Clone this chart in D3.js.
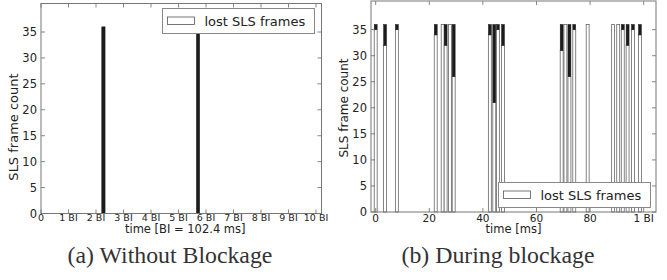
<!DOCTYPE html>
<html>
<head>
<meta charset="utf-8">
<script src="https://cdn.jsdelivr.net/npm/d3@7"></script>
<style>
  body { margin: 0; background: #fff; }
  svg { display: block; }
  text { font-family: "DejaVu Sans", sans-serif; fill: #222; }
</style>
</head>
<body>
<script>
// ---- data ----
// (a) without blockage: time in BI, counts per bar
var timeA  = [2.27, 5.71];
var lostA  = [0, 0];
var totalA = [36, 36];

// (b) during blockage: time in ms
var timeB  = [0, 3.5, 7.9, 22.4, 25, 26.1, 27.7, 29.1, 42.6, 44.25, 45.6, 47.5,
              69.4, 70.8, 72.3, 74.1, 79.1, 88.6, 90.5, 92.2, 94.0, 96.0, 98.6];
var lostB  = [35, 32, 35, 34, 36, 32, 36, 26, 34, 21, 35, 32,
              31, 36, 26, 35, 36, 36, 36, 35, 32, 35, 34];
var totalB = timeB.map(function () { return 36; });

var yTicks = [0, 5, 10, 15, 20, 25, 30, 35];
var xTicksA = [0, 1, 2, 3, 4, 5, 6, 7, 8, 9, 10];
var xTickLabelsA = ["0", "1 BI", "2 BI", "3 BI", "4 BI", "5 BI", "6 BI", "7 BI", "8 BI", "9 BI", "10 BI"];
var xTicksB = [0, 20, 40, 60, 80, 100];
var xTickLabelsB = ["0", "20", "40", "60", "80", "1 BI"];

var W = 667, H = 280;
var svg = d3.select("body").append("svg")
    .attr("width", W)
    .attr("height", H);

function panel(o) {
    var x = d3.scaleLinear().domain(o.xdom).range([o.left, o.right]);
    var y = d3.scaleLinear().domain([0, 40.5]).range([o.bottom, o.top]);
    var g = svg.append("g");

    // bars: white = lost, dark = rest up to total
    var bw = o.barWidth;
    var bars = g.append("g");
    o.t.forEach(function (t, i) {
        var xl = x(t - bw / 2), xr = x(t + bw / 2);
        if (o.lost[i] > 0) {
            bars.append("rect")
                .attr("x", xl).attr("width", xr - xl)
                .attr("y", y(o.lost[i])).attr("height", y(0) - y(o.lost[i]))
                .style("fill", "#fff").style("stroke", "#666").style("stroke-width", 0.8);
        }
        if (o.total[i] > o.lost[i]) {
            bars.append("rect")
                .attr("x", xl).attr("width", xr - xl)
                .attr("y", y(o.total[i])).attr("height", y(o.lost[i]) - y(o.total[i]))
                .style("fill", "#1c1c1c").style("stroke", "#1c1c1c").style("stroke-width", 0.5);
        }
    });

    // ticks inside, mirrored on all sides (classic matplotlib look)
    var tk = g.append("g").style("stroke", "#666").style("stroke-width", 0.8);
    o.xt.forEach(function (v) {
        tk.append("line").attr("x1", x(v)).attr("x2", x(v)).attr("y1", o.bottom).attr("y2", o.bottom - 4);
        tk.append("line").attr("x1", x(v)).attr("x2", x(v)).attr("y1", o.top).attr("y2", o.top + 4);
    });
    yTicks.forEach(function (v) {
        tk.append("line").attr("x1", o.left).attr("x2", o.left + 4).attr("y1", y(v)).attr("y2", y(v));
        tk.append("line").attr("x1", o.right).attr("x2", o.right - 4).attr("y1", y(v)).attr("y2", y(v));
    });

    // frame
    g.append("rect")
        .attr("x", o.left).attr("y", o.top)
        .attr("width", o.right - o.left).attr("height", o.bottom - o.top)
        .style("fill", "none").style("stroke", "#777").style("stroke-width", 1);

    // tick labels
    yTicks.forEach(function (v) {
        g.append("text")
            .attr("x", o.left - 4).attr("y", y(v) + 4)
            .attr("text-anchor", "end")
            .style("font-size", "11.5px")
            .text(v);
    });
    o.xt.forEach(function (v, i) {
        g.append("text")
            .attr("x", x(v)).attr("y", o.bottom + o.xtDy)
            .attr("text-anchor", "middle")
            .style("font-size", o.xtSize)
            .text(o.xtl[i]);
    });

    // axis labels
    g.append("text")
        .attr("x", (o.left + o.right) / 2 + o.xlabOff).attr("y", o.bottom + o.xlabDy)
        .attr("text-anchor", "middle")
        .style("font-size", "11.5px")
        .text(o.xlab);
    g.append("text")
        .attr("transform", "translate(" + o.ylabX + "," + o.ylabY + ") rotate(-90)")
        .attr("text-anchor", "middle")
        .style("font-size", o.ylabSize)
        .text("SLS frame count");

    // legend
    var lg = g.append("g").attr("transform", "translate(" + o.leg[0] + "," + o.leg[1] + ")");
    lg.append("rect").attr("width", 152).attr("height", 25)
        .style("fill", "#fff").style("stroke", "#888").style("stroke-width", 1);
    lg.append("rect").attr("x", 5).attr("y", 8.5).attr("width", 27).attr("height", 7.5)
        .style("fill", "#fff").style("stroke", "#555").style("stroke-width", 0.8);
    lg.append("text").attr("x", 42).attr("y", 17.5)
        .style("font-size", "13px")
        .text("lost SLS frames");

    // caption
    svg.append("text")
        .attr("x", o.capX).attr("y", 263)
        .attr("text-anchor", "middle")
        .style("font-family", "'Liberation Serif', 'DejaVu Serif', serif")
        .style("font-size", "23.8px")
        .style("fill", "#333")
        .text(o.caption);
}

panel({
    left: 41, right: 321.5, top: 3.5, bottom: 213.5,
    xdom: [0, 10.2], barWidth: 0.12,
    t: timeA, lost: lostA, total: totalA,
    xt: xTicksA, xtl: xTickLabelsA, xtSize: "9.5px", xtDy: 7.5,
    xlab: "time [BI = 102.4 ms]", xlabOff: 4, xlabDy: 19,
    ylabX: 18, ylabY: 127, ylabSize: "13px",
    leg: [162.5, 8.5],
    capX: 170, caption: "(a) Without Blockage"
});

panel({
    left: 371, right: 656, top: 1, bottom: 212,
    xdom: [-1.75, 104.6], barWidth: 1.1,
    t: timeB, lost: lostB, total: totalB,
    xt: xTicksB, xtl: xTickLabelsB, xtSize: "10.5px", xtDy: 9.5,
    xlab: "time [ms]", xlabOff: 0, xlabDy: 21,
    ylabX: 348, ylabY: 108, ylabSize: "12px",
    leg: [498.5, 182.5],
    capX: 498, caption: "(b) During blockage"
});
</script>
</body>
</html>
